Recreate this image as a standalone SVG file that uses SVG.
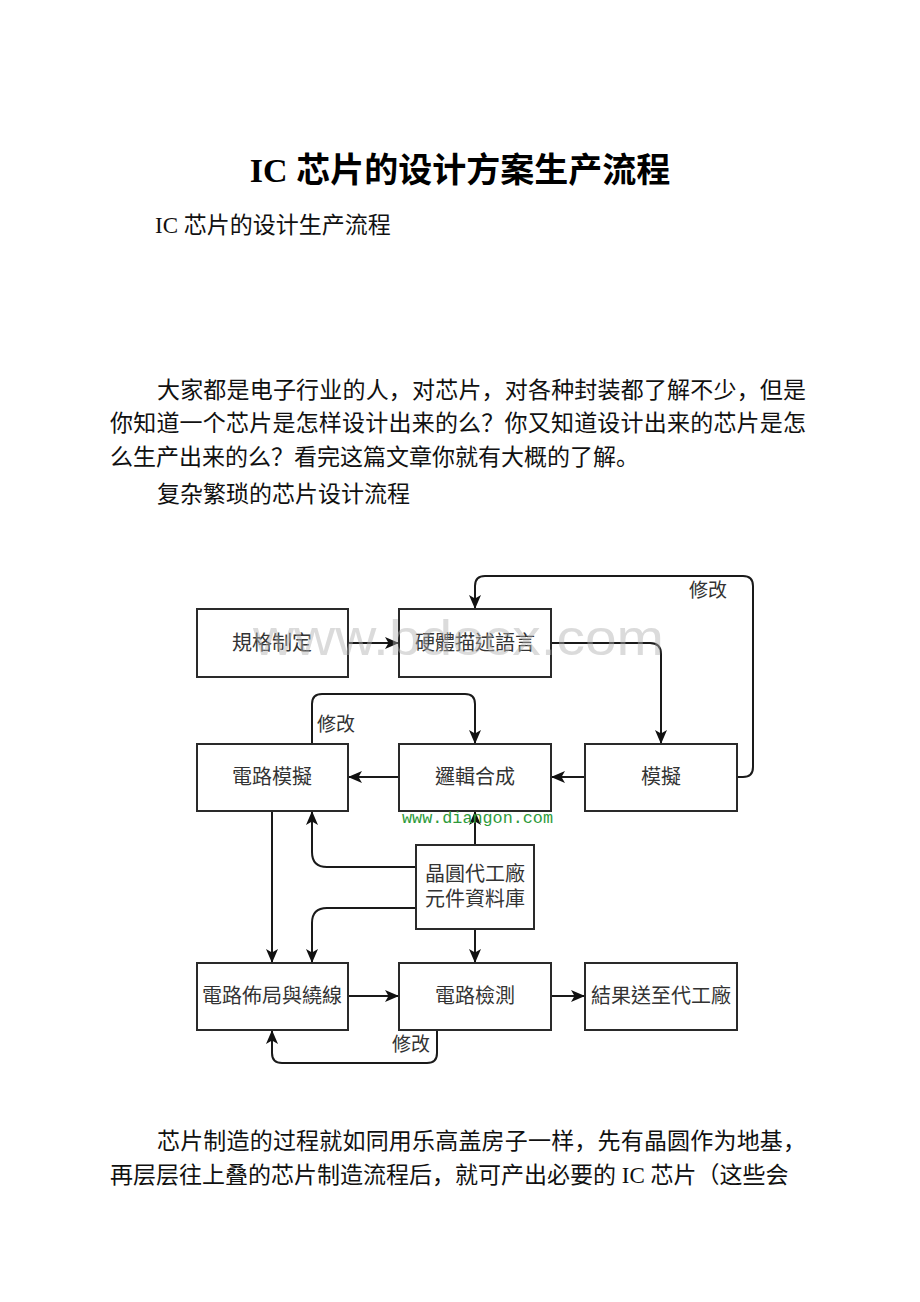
<svg xmlns="http://www.w3.org/2000/svg" width="920" height="1302" viewBox="0 0 920 1302">
<defs>
<marker id="arr" viewBox="0 0 14 12" refX="14" refY="6" markerWidth="14" markerHeight="12" markerUnits="userSpaceOnUse" orient="auto">
<path d="M0,0 L14,6 L0,12 L3.5,6 z" fill="#111"/>
</marker>
</defs>
<style>
.body{font-family:"Liberation Serif","Noto Sans CJK SC",serif;font-size:23px;fill:#111}
.title{font-family:"Liberation Serif","Noto Sans CJK SC",serif;font-size:34px;font-weight:bold;fill:#000}
.box{fill:#fff;stroke:#2a2a2a;stroke-width:2}
.lbl{font-family:"Noto Sans CJK TC","Noto Sans CJK SC",sans-serif;font-size:20px;fill:#333;text-anchor:middle}
.mod{font-family:"Noto Sans CJK TC","Noto Sans CJK SC",sans-serif;font-size:19px;fill:#333}
.con{fill:none;stroke:#1a1a1a;stroke-width:2}
</style>
<rect width="920" height="1302" fill="#fff"/>
<text class="title" x="460" y="182" text-anchor="middle">IC 芯片的设计方案生产流程</text>
<text class="body" x="155" y="233">IC 芯片的设计生产流程</text>
<text class="body" x="157" y="398" textLength="649" lengthAdjust="spacing">大家都是电子行业的人，对芯片，对各种封装都了解不少，但是</text>
<text class="body" x="110" y="431" textLength="696" lengthAdjust="spacing">你知道一个芯片是怎样设计出来的么？你又知道设计出来的芯片是怎</text>
<text class="body" x="110" y="465">么生产出来的么？看完这篇文章你就有大概的了解。</text>
<text class="body" x="157" y="502">复杂繁琐的芯片设计流程</text>
<text class="body" x="157" y="1149" textLength="649" lengthAdjust="spacing">芯片制造的过程就如同用乐高盖房子一样，先有晶圆作为地基，</text>
<text class="body" x="110" y="1183">再层层往上叠的芯片制造流程后，就可产出必要的 IC 芯片（这些会</text>

<g id="connectors">
<path class="con" marker-end="url(#arr)" d="M348,643 H399"/>
<path class="con" marker-end="url(#arr)" d="M551,643 H650 Q661,643 661,654 V744"/>
<path class="con" marker-end="url(#arr)" d="M737,777 H743 Q753,777 753,767 V586 Q753,576 743,576 H485 Q475,576 475,586 V609"/>
<path class="con" marker-end="url(#arr)" d="M585,777 H551"/>
<path class="con" marker-end="url(#arr)" d="M399,777 H348"/>
<path class="con" marker-end="url(#arr)" d="M312,744 V704 Q312,694 322,694 H465 Q475,694 475,704 V744"/>
<path class="con" marker-end="url(#arr)" d="M272,811 V963"/>
<path class="con" marker-end="url(#arr)" d="M416,867 H327 Q312,867 312,852 V811"/>
<path class="con" marker-end="url(#arr)" d="M475,845 V811"/>
<path class="con" marker-end="url(#arr)" d="M416,908 H327 Q312,908 312,923 V963"/>
<path class="con" marker-end="url(#arr)" d="M475,929 V963"/>
<path class="con" marker-end="url(#arr)" d="M348,996 H399"/>
<path class="con" marker-end="url(#arr)" d="M551,996 H585"/>
<path class="con" marker-end="url(#arr)" d="M437,1030 V1053 Q437,1063 427,1063 H282 Q272,1063 272,1053 V1030"/>
<text class="mod" x="689" y="597">修改</text>
<text class="mod" x="317" y="731">修改</text>
<text class="mod" x="392" y="1051">修改</text>
</g>

<g id="n-spec"><rect class="box" x="197" y="609" width="151" height="68"/><text class="lbl" x="272" y="650">規格制定</text></g>
<g id="n-hdl"><rect class="box" x="399" y="609" width="152" height="68"/><text class="lbl" x="475" y="650">硬體描述語言</text></g>
<g id="n-sim"><rect class="box" x="585" y="744" width="152" height="67"/><text class="lbl" x="661" y="784">模擬</text></g>
<g id="n-syn"><rect class="box" x="399" y="744" width="152" height="67"/><text class="lbl" x="475" y="784">邏輯合成</text></g>
<g id="n-csim"><rect class="box" x="197" y="744" width="151" height="67"/><text class="lbl" x="272" y="784">電路模擬</text></g>
<g id="n-lib"><rect class="box" x="416" y="845" width="118" height="84"/><text class="lbl" font-size="19"><tspan x="475" y="881">晶圓代工廠</tspan><tspan x="475" y="906">元件資料庫</tspan></text></g>
<g id="n-pr"><rect class="box" x="197" y="963" width="151" height="67"/><text class="lbl" x="272" y="1003">電路佈局與繞線</text></g>
<g id="n-chk"><rect class="box" x="399" y="963" width="152" height="67"/><text class="lbl" x="475" y="1003">電路檢測</text></g>
<g id="n-fab"><rect class="box" x="585" y="963" width="152" height="67"/><text class="lbl" x="661" y="1003">結果送至代工廠</text></g>

<text x="253" y="655" font-family="Liberation Sans, Arial, sans-serif" font-size="50" textLength="411" lengthAdjust="spacingAndGlyphs" fill="#b0b0b0" fill-opacity="0.45">www.bdocx.com</text>
<text x="402" y="823" font-family="Liberation Mono, monospace" font-size="16" textLength="151" lengthAdjust="spacingAndGlyphs" fill="#2e9a3a">www.diangon.com</text>
</svg>
